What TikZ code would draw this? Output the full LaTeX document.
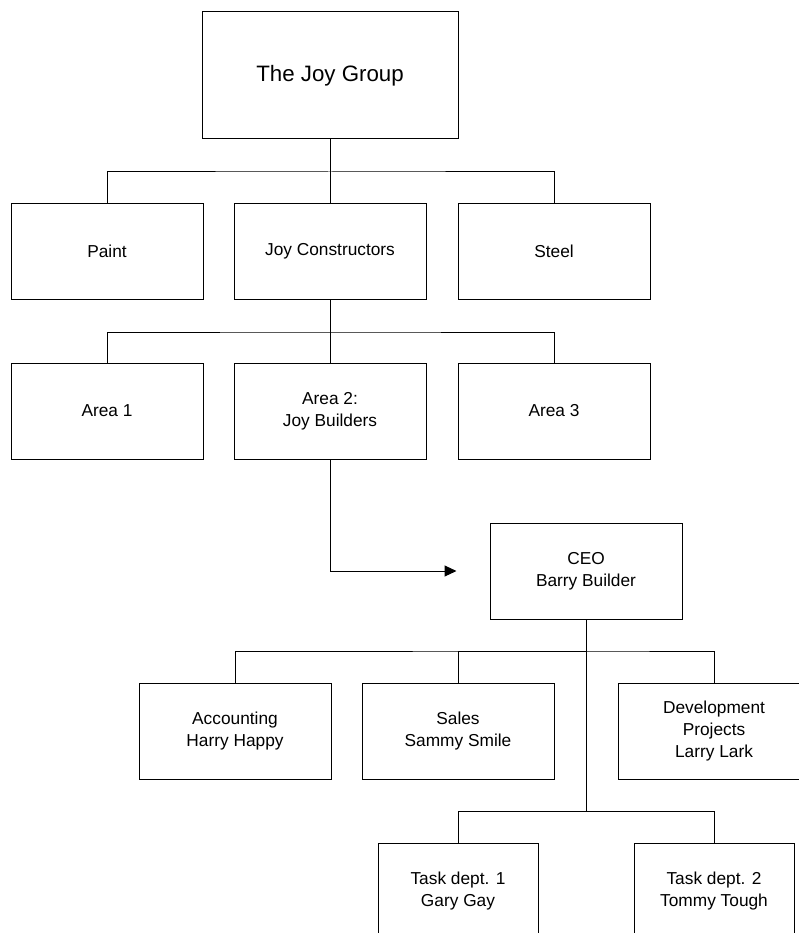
\documentclass[tikz,border=0pt]{standalone}
\usepackage{fontspec}
\setmainfont{Liberation Sans}
\usetikzlibrary{arrows.meta}
\tikzset{
  orgbox/.style={draw,minimum width=192pt,minimum height=96pt,inner sep=1pt,align=center,
    font=\fontsize{17.3}{22}\selectfont},
  topbox/.style={orgbox,minimum width=256pt,minimum height=127pt,font=\fontsize{22.3}{27}\selectfont},
  taskbox/.style={orgbox,minimum width=160pt}
}

\begin{document}
\begin{tikzpicture}[x=1pt,y=-1pt,line width=1pt,>={Triangle[length=12pt,width=11pt]}]
        % Pixel grid of the page; the lowest row runs off the bottom and right edges.
        \useasboundingbox (0,0) rectangle (799,933);
        \clip (0,0) rectangle (799,933);
        \node[topbox] (group) at (330,75.5) {The Joy Group};
        \node[orgbox] (paint) at (107,251.5) {Paint};
        \node[orgbox] (constructors) at (330,251.5) {Joy Constructors};
        \node[orgbox] (steel) at (554,251.5) {Steel};
        \node[orgbox] (area1) at (107,411) {Area 1};
        \node[orgbox] (area2) at (330,411) {Area 2:\\Joy Builders};
        \node[orgbox] (area3) at (554,411) {Area 3};
        \node[orgbox] (ceo) at (586,571) {CEO\\Barry Builder};
        \node[orgbox] (accounting) at (235,731) {Accounting\\Harry Happy};
        \node[orgbox] (sales) at (458,731) {Sales\\Sammy Smile};
        \node[orgbox] (devel) at (714,731) {Development\\Projects\\Larry Lark};
        \node[taskbox] (task1) at (458,891) {Task dept. 1\\Gary Gay};
        \node[taskbox] (task2) at (714,891) {Task dept. 2\\Tommy Tough};
        \coordinate (bus1) at (330,172);
        \coordinate (bus2) at (330,332);
        \coordinate (bus3) at (586,651);
        \coordinate (bus4) at (586,811);
        \draw (group) -- (constructors);
        \draw (paint.north) |- (bus1) -| (steel.north);
        \draw (constructors) -- (area2);
        \draw (area1.north) |- (bus2) -| (area3.north);
        \draw[->,shorten >=33pt] (area2.south) |- (ceo.west);
        \draw (ceo.south) -- (bus4);
        \draw (accounting.north) |- (bus3) -| (devel.north);
        \draw (sales.north) |- (bus3);
        \draw (task1.north) |- (bus4) -| (task2.north);
      \end{tikzpicture}
\end{document}
